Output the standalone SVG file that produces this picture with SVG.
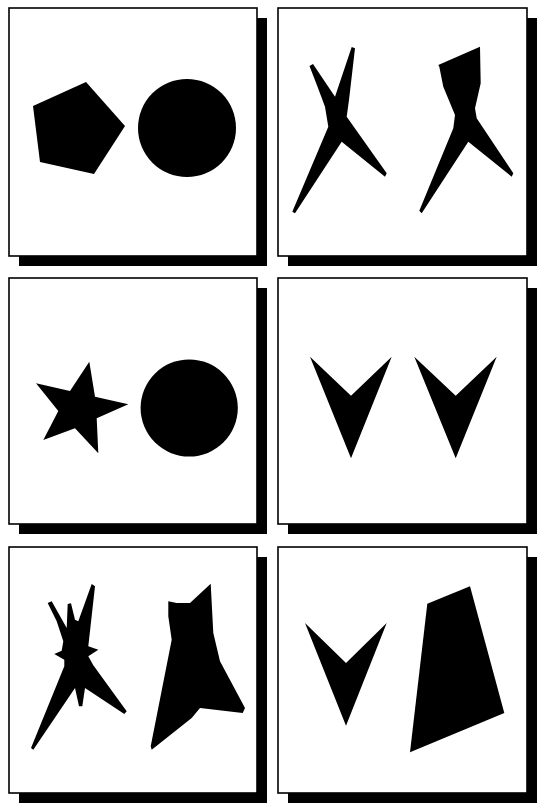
<svg xmlns="http://www.w3.org/2000/svg" width="539" height="803" viewBox="0 0 539 803">
<style>
.shadow{fill:#000}
.frame{fill:#fff;stroke:#000;stroke-width:1.6}
.s{fill:#000;stroke:none}
</style>
<rect width="539" height="803" fill="#fff"/>
<g id="panel1">
<rect class="shadow" x="19" y="18" width="248" height="248"/>
<rect class="frame" x="9" y="8" width="248" height="248"/>
<polygon class="s" points="33,106 86,82 125,126 94,174 40,162"/>
<circle class="s" cx="187" cy="128" r="49"/>
</g>
<g id="panel2">
<rect class="shadow" x="288" y="18" width="249" height="248"/>
<rect class="frame" x="278" y="8" width="249" height="248"/>
<polygon class="s" points="309.5,66 313,64 335,96.7 351.7,47 355,48.3 349,100 346.7,116.7 386.7,173.3 385,176.7 341.7,141.7 295,213.3 292.3,211.7 328.3,126.7 325,106.7 318,88"/>
<polygon class="s" points="438.3,65 480,46.7 480.7,83.3 475,108.3 476.7,118.3 513.3,173.3 511.7,176.7 468.3,141.7 421.7,213.3 419.3,210.7 453.3,128.3 455,115 443.3,86.7 439.3,66.7"/>
</g>
<g id="panel3">
<rect class="shadow" x="19" y="288" width="248" height="246"/>
<rect class="frame" x="9" y="278" width="248" height="246"/>
<polygon class="s" points="89.3,361.7 95,396.7 128.3,404.3 96.7,418.3 98.3,453.3 75,428.3 43.3,440 58.3,411 36,383.3 70,391"/>
<circle class="s" cx="189.2" cy="408" r="48.6"/>
</g>
<g id="panel4">
<rect class="shadow" x="288" y="288" width="249" height="246"/>
<rect class="frame" x="278" y="278" width="249" height="246"/>
<polygon class="s" points="310,356.7 351,395.7 391.7,356.7 351,458.3"/>
<polygon class="s" points="414.3,356.7 455.7,395.7 496.7,356.7 455.7,458.3"/>
</g>
<g id="panel5">
<rect class="shadow" x="19" y="557" width="248" height="246"/>
<rect class="frame" x="9" y="547" width="248" height="246"/>
<polygon class="s" points="47.7,603 51.7,601.3 66.7,628 67.7,604 71,603.3 75,619.7 78.3,621.3 91.7,584 95,586.3 88.3,646.3 98.3,649.7 88.3,656.3 93.3,665.3 126.7,711.3 124.3,714 85,688 82.3,706.3 79,706.3 75,688 33.3,749.7 31,748 64.3,666.3 64.3,659.7 54.3,654 61.7,650.7 63.3,641.3 56.7,621.3"/>
<polygon class="s" points="168.3,601.3 176.7,603 190,603 210.7,583.7 213.3,633 220,661.3 245,708 242.7,713 200,708 191.7,718 151.7,749.7 150.7,746.3 171.7,639.7 168.3,616.3"/>
</g>
<g id="panel6">
<rect class="shadow" x="288" y="557" width="249" height="246"/>
<rect class="frame" x="278" y="547" width="249" height="246"/>
<polygon class="s" points="305,623 346,663 386.7,623 346,725.7"/>
<polygon class="s" points="427.3,603.7 470,586.3 504.3,713 410,752.3"/>
</g>
<g id="connectors"></g>
</svg>
